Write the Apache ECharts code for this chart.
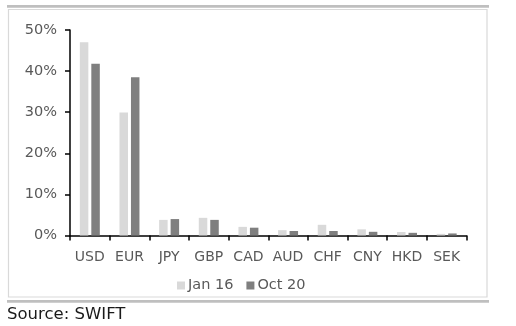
<!DOCTYPE html>
<html><head><meta charset="utf-8">
<script src="https://cdn.jsdelivr.net/npm/echarts@6/dist/echarts.min.js"></script>
<style>html,body{margin:0;padding:0;background:#fff}#c{width:516px;height:326px}</style>
</head><body><div id="c"></div>
<script>
const categories = ['USD','EUR','JPY','GBP','CAD','AUD','CHF','CNY','HKD','SEK'];
const jan16 = [47.0, 29.9, 3.8, 4.3, 2.1, 1.3, 2.6, 1.5, 0.85, 0.4];
const oct20 = [41.8, 38.5, 4.0, 3.8, 1.9, 1.1, 1.1, 0.9, 0.65, 0.5];
const seriesNames = ['Jan 16', 'Oct 20'];
const yTicks = [0, 10, 20, 30, 40, 50];

const txt = '#595959';
const font = 'DejaVu Sans';
const chart = echarts.init(document.getElementById('c'), null, {renderer:'canvas'});
chart.setOption({
  animation: false,
  backgroundColor: '#fff',
  grid: {left: 70, right: 49.5, top: 30, bottom: 90.5, containLabel: false},
  legend: {
    data: seriesNames, left: 172, top: 273, itemWidth: 8, itemHeight: 8, itemGap: 13,
    icon: 'rect',
    textStyle: {color: txt, fontFamily: font, fontSize: 14.5, padding: [0,0,0,-2]}
  },
  xAxis: {
    type: 'category', data: categories,
    axisLine: {lineStyle: {color: '#000', width: 1.5}},
    axisTick: {show: true, length: 5, lineStyle: {color: '#000', width: 1.5}},
    axisLabel: {color: txt, fontFamily: font, fontSize: 14, margin: 15, interval: 0}
  },
  yAxis: {
    type: 'value', min: yTicks[0], max: yTicks[yTicks.length-1], interval: 10,
    axisLine: {show: true, lineStyle: {color: '#000', width: 1.5}},
    axisTick: {show: true, length: 5, lineStyle: {color: '#000', width: 1.5}},
    splitLine: {show: false},
    axisLabel: {color: txt, fontFamily: font, fontSize: 14.5, margin: 13, formatter: '{value}%'}
  },
  series: [
    {name: seriesNames[0], type: 'bar', data: jan16, barWidth: 8.5, barGap: '35%', itemStyle: {color: '#d9d9d9'}},
    {name: seriesNames[1], type: 'bar', data: oct20, barWidth: 8.5, barGap: '35%', itemStyle: {color: '#7f7f7f'}}
  ],
  graphic: [
    {type: 'rect', shape: {x: 7, y: 5, width: 482, height: 2.7}, style: {fill: '#bfbfbf'}, silent: true},
    {type: 'rect', shape: {x: 8.5, y: 9.5, width: 478.5, height: 287.5}, style: {fill: null, stroke: '#d9d9d9', lineWidth: 1.2}, silent: true, z: -1},
    {type: 'rect', shape: {x: 7, y: 300, width: 482, height: 2.7}, style: {fill: '#bfbfbf'}, silent: true},
    {type: 'text', left: 7, top: 306, style: {text: 'Source: SWIFT', fill: '#1a1a1a', font: '16.5px "DejaVu Sans"'}, silent: true}
  ]
});
</script></body></html>
